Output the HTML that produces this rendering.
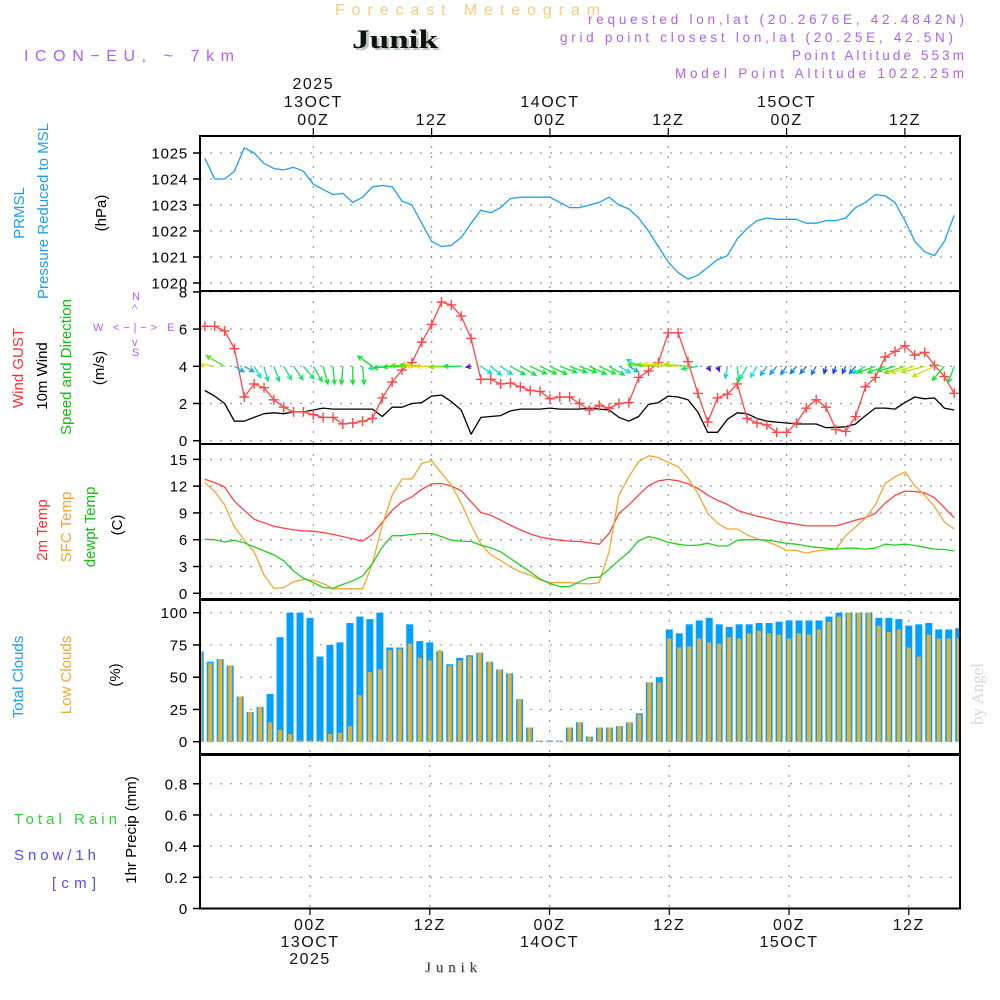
<!DOCTYPE html>
<html><head><meta charset="utf-8"><title>Junik Meteogram</title>
<style>
html,body{margin:0;padding:0;background:#fff;}
svg{display:block;}
text{font-family:"Liberation Sans",sans-serif;}
</style></head>
<body>
<svg id="chart" width="1000" height="1000" viewBox="0 0 1000 1000" xmlns="http://www.w3.org/2000/svg">
<text x="335" y="15" font-size="16" fill="#f5cc80" textLength="265" lengthAdjust="spacing">Forecast Meteogram</text>
<text x="352" y="48" font-size="26" font-weight="bold" fill="#111" textLength="86" lengthAdjust="spacingAndGlyphs" style="font-family:'Liberation Serif',serif;text-shadow:2px 2px 0 #b8c8b8">Junik</text>
<text x="24" y="61" font-size="16" fill="#b060f0" textLength="210" lengthAdjust="spacing">ICON−EU, ~ 7km</text>
<g font-size="13.5" fill="#b060f0">
<text x="588" y="24" textLength="376" lengthAdjust="spacing">requested lon,lat (20.2676E, 42.4842N)</text>
<text x="560" y="42" textLength="393" lengthAdjust="spacing">grid point closest lon,lat (20.25E, 42.5N)</text>
<text x="792" y="60" textLength="172" lengthAdjust="spacing">Point Altitude 553m</text>
<text x="675" y="78" textLength="289" lengthAdjust="spacing">Model Point Altitude 1022.25m</text>
</g>
<g font-size="15">
<text transform="translate(24,213) rotate(-90)" text-anchor="middle" fill="#1aa0f0">PRMSL</text>
<text transform="translate(48,211) rotate(-90)" text-anchor="middle" fill="#1aa0f0">Pressure Reduced to MSL</text>
<text transform="translate(106,213) rotate(-90)" text-anchor="middle" fill="#000">(hPa)</text>
<text transform="translate(23,368) rotate(-90)" text-anchor="middle" fill="#ff3030">Wind GUST</text>
<text transform="translate(47,376) rotate(-90)" text-anchor="middle" fill="#000">10m Wind</text>
<text transform="translate(71,367) rotate(-90)" text-anchor="middle" fill="#10c010">Speed and Direction</text>
<text transform="translate(104,368) rotate(-90)" text-anchor="middle" fill="#000">(m/s)</text>
<text transform="translate(47,530) rotate(-90)" text-anchor="middle" fill="#ff3030">2m Temp</text>
<text transform="translate(71,527) rotate(-90)" text-anchor="middle" fill="#f0a830">SFC Temp</text>
<text transform="translate(95,527) rotate(-90)" text-anchor="middle" fill="#10c010">dewpt Temp</text>
<text transform="translate(122,525) rotate(-90)" text-anchor="middle" fill="#000">(C)</text>
<text transform="translate(23,677) rotate(-90)" text-anchor="middle" fill="#1aa0f0">Total Clouds</text>
<text transform="translate(71,675) rotate(-90)" text-anchor="middle" fill="#f0a830">Low Clouds</text>
<text transform="translate(120,675) rotate(-90)" text-anchor="middle" fill="#000">(%)</text>
<text x="14" y="824" fill="#30d030" textLength="103" lengthAdjust="spacing">Total   Rain</text>
<text x="14" y="860" fill="#5050f0" textLength="82" lengthAdjust="spacing">Snow/1h</text>
<text x="52" y="888" fill="#5050f0" textLength="44" lengthAdjust="spacing">[cm]</text>
<text transform="translate(136,830) rotate(-90)" text-anchor="middle" fill="#000">1hr Precip (mm)</text>
</g>
<g fill="#b060f0" font-size="11">
<text x="132" y="300">N</text>
<text x="93" y="331">W</text>
<text x="167" y="331">E</text>
<text x="132" y="356">S</text>
<text x="113" y="331" textLength="44" lengthAdjust="spacing">&lt;−|−&gt;</text>
<text x="132" y="312">^</text>
<text x="132" y="346">v</text>
</g>
<text x="425" y="972" font-size="15" fill="#444" textLength="52" lengthAdjust="spacing" style="font-family:'Liberation Serif',serif;text-shadow:1px 1px 0 #bcc">Junik</text>
<text transform="translate(983,694) rotate(-90)" text-anchor="middle" font-size="17" fill="#d0dcd0" style="font-family:'Liberation Serif',serif">by Angel</text>
<g id="plot"></g>
</svg>
<script>
// ---- data (hourly, starting 13Z 12 Oct 2025, t = hours from 00Z 13 Oct) ----
const startHour = -11;
const pressure = [1024.8,1024.0,1024.0,1024.3,1025.2,1025.0,1024.6,1024.4,1024.35,1024.45,1024.3,1023.8,1023.6,1023.4,1023.45,1023.1,1023.3,1023.7,1023.75,1023.7,1023.15,1023.0,1022.3,1021.6,1021.4,1021.45,1021.75,1022.3,1022.8,1022.7,1022.9,1023.25,1023.3,1023.3,1023.3,1023.3,1023.1,1022.9,1022.9,1023.0,1023.1,1023.3,1023.0,1022.85,1022.5,1022.0,1021.4,1020.8,1020.4,1020.15,1020.3,1020.6,1020.9,1021.05,1021.7,1022.1,1022.4,1022.5,1022.45,1022.45,1022.45,1022.3,1022.3,1022.4,1022.4,1022.5,1022.9,1023.1,1023.4,1023.35,1023.1,1022.4,1021.6,1021.2,1021.05,1021.6,1022.6];
const wind10m = [2.7,2.4,2.0,1.05,1.05,1.25,1.45,1.5,1.45,1.55,1.55,1.65,1.75,1.7,1.7,1.7,1.7,1.7,1.3,1.8,1.8,2.0,2.05,2.4,2.45,2.1,1.65,0.35,1.25,1.3,1.35,1.6,1.7,1.7,1.7,1.75,1.7,1.7,1.7,1.75,1.7,1.65,1.25,1.05,1.3,1.95,2.05,2.4,2.35,2.2,1.55,0.45,0.45,1.15,1.5,1.45,1.2,1.05,1.0,0.95,0.9,0.9,0.9,0.7,0.72,0.75,0.9,1.35,1.75,1.75,1.7,2.05,2.35,2.25,2.3,1.75,1.65];
const gust = [6.15,6.15,5.9,4.95,2.35,3.05,2.85,2.2,1.8,1.55,1.55,1.4,1.25,1.25,0.9,0.95,1.05,1.2,2.3,3.15,3.8,4.2,5.3,6.25,7.45,7.3,6.7,5.5,3.3,3.3,3.05,3.1,2.9,2.7,2.65,2.25,2.35,2.35,2.0,1.65,1.9,1.75,2.0,2.05,3.4,3.75,4.2,5.8,5.8,4.25,2.55,1.0,2.3,2.5,3.05,1.2,0.95,0.85,0.45,0.45,0.95,1.75,2.2,1.8,0.6,0.5,1.3,2.9,3.4,4.5,4.8,5.1,4.6,4.75,4.05,3.45,2.55];
const windDir = [100,100,120,300,300,330,345,340,330,325,320,330,345,355,5,0,355,125,80,85,88,92,95,90,90,88,90,80,305,310,305,300,300,295,295,295,290,290,290,295,295,300,300,300,120,95,95,95,95,95,80,330,340,10,355,30,30,35,40,35,40,40,30,15,20,25,40,60,70,70,75,72,75,75,65,40,20];
const temp2m = [12.77,12.4,11.9,10.3,9.3,8.3,7.9,7.5,7.3,7.1,7.0,6.95,6.8,6.6,6.35,6.1,5.85,6.6,7.95,9.3,10.25,10.8,11.65,12.25,12.3,12.0,11.5,10.25,9.05,8.75,8.2,7.6,7.1,6.65,6.3,6.1,5.95,5.85,5.8,5.65,5.5,6.7,8.95,9.9,11.0,12.05,12.6,12.75,12.6,12.25,11.75,11.0,10.4,9.95,9.3,8.95,8.65,8.4,8.1,7.9,7.75,7.55,7.55,7.55,7.55,7.85,8.2,8.45,8.95,10.1,10.95,11.45,11.4,11.25,10.7,9.6,8.45];
const sfcTemp = [12.4,11.4,9.9,7.45,5.95,4.65,2.05,0.55,0.65,1.3,1.55,1.45,1.1,0.5,0.5,0.5,0.5,3.35,7.65,11.0,12.8,12.8,14.55,14.85,13.45,12.1,10.1,7.65,5.5,4.3,3.7,2.95,2.4,2.05,1.5,1.2,1.2,1.2,1.1,1.05,1.2,4.65,11.0,13.05,14.75,15.4,15.2,14.65,14.2,12.9,11.2,8.95,7.85,7.2,7.2,6.55,6.1,5.8,5.35,4.8,4.8,4.5,4.75,4.85,4.95,6.45,7.45,8.4,9.9,12.3,13.05,13.6,12.05,11.0,9.7,8.0,7.2];
const dewpt = [6.05,6.0,5.75,5.95,5.65,5.2,4.75,4.3,3.65,2.5,1.7,1.2,0.65,0.55,1.0,1.4,1.95,3.35,5.2,6.45,6.45,6.6,6.7,6.7,6.35,5.95,5.85,5.8,5.4,5.1,4.65,3.9,3.15,2.4,1.6,1.1,0.75,0.75,1.3,1.75,1.8,2.7,3.7,4.6,5.9,6.35,6.1,5.7,5.5,5.35,5.4,5.6,5.3,5.3,5.95,6.0,6.0,5.95,5.8,5.6,5.5,5.3,5.15,5.05,4.95,5.05,5.05,4.95,5.05,5.5,5.4,5.5,5.35,5.15,4.95,4.9,4.75];
const totalClouds = [70,62,64,59,35,23,27,37,81,100,100,96,66,75,77,92,97,95,100,73,73,91,78,77,70,60,65,67,69,62,56,53,33,11,0,0,0,11,15,4,11,11,12,15,22,46,50,87,84,91,94,96,91,89,91,91,92,92,93,94,94,94,94,97,100,100,100,100,96,96,95,90,91,92,87,87,88];
const lowClouds = [70,61,64,59,35,23,27,15,9,6,1,1,1,6,7,12,36,54,56,71,72,76,65,63,71,59,63,66,69,62,56,53,33,11,0,0,0,11,15,4,11,11,12,15,21,46,46,80,73,74,80,77,76,81,80,84,86,84,83,80,84,83,87,93,97,100,100,100,90,85,87,73,66,83,80,80,80];
const precip = new Array(77).fill(0);
const pressTicks = [1020,1021,1022,1023,1024,1025];
const windTicks = [0,2,4,6,8];
const tempTicks = [0,3,6,9,12,15];
const cloudTicks = [0,25,50,75,100];
const precipTicks = [0,0.2,0.4,0.6,0.8];
const precipTickLabels = ["0","0.2","0.4","0.6","0.8"];
const timeTicks = [0,12,24,36,48,60];
const topTimeLabels = [["2025","13OCT","00Z"],["12Z"],["14OCT","00Z"],["12Z"],["15OCT","00Z"],["12Z"]];
const bottomTimeLabels = [["00Z","13OCT","2025"],["12Z"],["00Z","14OCT"],["12Z"],["00Z","15OCT"],["12Z"]];

// ---- scales ----
const X0 = 200, X1 = 960;
const xt = t => 313.3 + t * 9.86;      // upper three panels
const xb = t => 310 + t * 9.98;        // lower two panels
const yP = v => 153 + (1025 - v) * 26;
const yW = v => 440.7 - v * 18.6;
const yT = v => 593.3 - v * 8.93;
const yC = v => 741.7 - v * 1.29;
const yR = v => 908.5 - v * 155.9;
const panels = [[136,291],[291,444],[444,599],[600,754],[755,908.5]];

const NS = "http://www.w3.org/2000/svg";
const plot = document.getElementById("plot");
function mk(tag, attrs, parent) {
  const e = document.createElementNS(NS, tag);
  for (const k in attrs) e.setAttribute(k, attrs[k]);
  (parent || plot).appendChild(e);
  return e;
}
const defs = mk("defs", {});
const cp = mk("clipPath", {id: "clip"}, defs);
mk("rect", {x: X0, y: 130, width: X1 - X0, height: 780}, cp);

function hGrid(ticks, yf, labels, name) {
  ticks.forEach((v, i) => {
    const y = yf(v);
    const g = mk("line", {x1: X0, x2: X1, y1: y, y2: y, stroke: "#999", "stroke-width": 1.2, "stroke-dasharray": "2,8"});
    
    
    const tk = mk("line", {x1: X0 - 7, x2: X0, y1: y, y2: y, stroke: "#000", "stroke-width": 1.5});
    
    
    const tx = mk("text", {x: 188, y: y + 5.5, "text-anchor": "end", "font-size": 15, fill: "#000", "letter-spacing": 0.8});
    tx.textContent = labels ? labels[i] : String(v);
    
    
  });
}
hGrid(pressTicks, yP, null, "pressure");
hGrid(windTicks, yW, null, "wind");
hGrid(tempTicks, yT, null, "temp");
hGrid(cloudTicks, yC, null, "cloud");
hGrid(precipTicks, yR, precipTickLabels, "precip");

timeTicks.forEach(t => {
  [[0, xt], [1, xt], [2, xt], [3, xb], [4, xb]].forEach(([p, xf]) => {
    const v = mk("line", {x1: xf(t), x2: xf(t), y1: panels[p][0], y2: panels[p][1], stroke: "#999", "stroke-width": 1.2, "stroke-dasharray": "2,8"});
    
    
  });
  const tk = mk("line", {x1: xt(t), x2: xt(t), y1: 128, y2: 136, stroke: "#000", "stroke-width": 1.2});
  
  
  const tb = mk("line", {x1: xb(t), x2: xb(t), y1: 908, y2: 915, stroke: "#000", "stroke-width": 1.2});
  
  
});
timeTicks.forEach((t, i) => {
  const lines = topTimeLabels[i];
  lines.forEach((s, j) => {
    const y = 125 - (lines.length - 1 - j) * 18;
    const tx = mk("text", {x: xt(t), y: y, "text-anchor": "middle", "font-size": 16, fill: "#111", "letter-spacing": 1.5});
    tx.textContent = s;
    
    
  });
  bottomTimeLabels[i].forEach((s, j) => {
    const tx = mk("text", {x: xb(t), y: 930 + j * 17, "text-anchor": "middle", "font-size": 16, fill: "#111", "letter-spacing": 1.5});
    tx.textContent = s;
    
    
  });
});

totalClouds.forEach((v, k) => {
  const x = xb(startHour + k);
  const h = Math.max(1, v * 1.29);
  const b = mk("rect", {x: x - 3.5, y: yC(0) - h, width: 7, height: h, fill: "#00a0ff", "clip-path": "url(#clip)"});
  
  
  const lv = lowClouds[k];
  const lh = Math.max(1, lv * 1.29);
  const o = mk("rect", {x: x - 2, y: yC(0) - lh, width: 4, height: lh, fill: "#e8b030", "clip-path": "url(#clip)"});
  
  
});

const pl = mk("path", {d: precip.map((v, k) => (k ? "L" : "M") + xb(startHour + k) + "," + yR(v)).join(""), fill: "none", stroke: "#000", "stroke-width": 2, "stroke-dasharray": "6,3", "clip-path": "url(#clip)"});



function series(arr, yf, color, name, w) {
  const d = arr.map((v, i) => (i ? "L" : "M") + xt(startHour + i).toFixed(1) + "," + yf(v).toFixed(1)).join("");
  const p = mk("path", {d: d, fill: "none", stroke: color, "stroke-width": w || 1.3, "stroke-linejoin": "round", "clip-path": "url(#clip)"});
  
  
}
series(pressure, yP, "#1aa0f0", "pressure-line");
series(wind10m, yW, "#000", "wind10m-line");
series(gust, yW, "#ff4848", "gust-line");
gust.forEach((v, i) => {
  const x = xt(startHour + i), y = yW(v);
  const m = mk("path", {d: `M${x - 5},${y}h10M${x},${y - 5}v10`, stroke: "#ff4848", "stroke-width": 1.4});
  
  
});
series(temp2m, yT, "#ff4444", "temp-2m-line");
series(sfcTemp, yT, "#f0a830", "sfc-temp-line");
series(dewpt, yT, "#20d020", "dewpt-line");

windDir.forEach((d, i) => {
  const s = wind10m[i];
  const L = Math.max(5, 10.5 * s);
  const r = d * Math.PI / 180;
  const ux = -Math.sin(r), uy = Math.cos(r);
  const x0 = xt(startHour + i), y0 = yW(4);
  const x1 = x0 + ux * L, y1 = y0 + uy * L;
  const hue = Math.max(55, Math.min(275, 300 - 100 * s));
  const col = `hsl(${hue},85%,48%)`;
  const hl = 5, a = 0.45;
  const hx1 = x1 - hl * (ux * Math.cos(a) - uy * Math.sin(a)), hy1 = y1 - hl * (uy * Math.cos(a) + ux * Math.sin(a));
  const hx2 = x1 - hl * (ux * Math.cos(-a) - uy * Math.sin(-a)), hy2 = y1 - hl * (uy * Math.cos(-a) + ux * Math.sin(-a));
  const ar = mk("path", {d: `M${x0},${y0}L${x1},${y1}M${hx1},${hy1}L${x1},${y1}L${hx2},${hy2}`, stroke: col, "stroke-width": 1.3, fill: "none", "clip-path": "url(#clip)"});
  
  
});

panels.forEach((p, i) => {
  const r = mk("rect", {x: X0, y: p[0], width: X1 - X0, height: p[1] - p[0], fill: "none", stroke: "#000", "stroke-width": 2});
  
  
});
</script>
</body></html>
